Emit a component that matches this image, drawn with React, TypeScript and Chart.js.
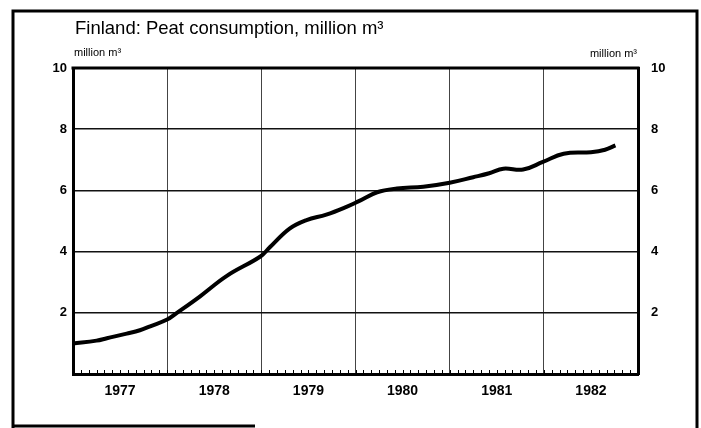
import React, { useEffect, useRef } from 'react';
import { Chart, registerables } from 'chart.js';

Chart.register(...registerables);

const TITLE = 'Finland: Peat consumption, million m³';
const UNIT = 'million m³';
const YEARS = ['1977', '1978', '1979', '1980', '1981', '1982'];
const Y_TICKS = [0, 2, 4, 6, 8, 10];

// time in decimal years, consumption in million m³
const TIME = [
  1977.0, 1977.25, 1977.36, 1977.57, 1977.71, 1977.82, 1978.0, 1978.1, 1978.35, 1978.63, 1978.99,
  1979.09, 1979.3, 1979.48, 1979.69, 1979.91, 1980.03, 1980.23, 1980.44, 1980.72,
  1981.0, 1981.25, 1981.42, 1981.57, 1981.78, 1981.99, 1982.21, 1982.5, 1982.65, 1982.76,
];
const CONSUMPTION = [
  1.0, 1.09, 1.17, 1.32, 1.43, 1.56, 1.78, 1.99, 2.54, 3.2, 3.84,
  4.14, 4.75, 5.03, 5.21, 5.47, 5.64, 5.94, 6.06, 6.12,
  6.25, 6.43, 6.56, 6.71, 6.68, 6.93, 7.2, 7.25, 7.33, 7.47,
];

const FONT = "'Liberation Sans', Arial, sans-serif";

const decorPlugin = {
  id: 'decor',
  afterDraw(chart: any) {
    const ctx = chart.ctx as CanvasRenderingContext2D;
    const a = chart.chartArea;
    const xs = chart.scales.x;
    ctx.save();
    // top border of plot
    ctx.strokeStyle = '#000';
    ctx.lineWidth = 3;
    ctx.beginPath();
    ctx.moveTo(a.left - 1.5, a.top);
    ctx.lineTo(a.right + 1.5, a.top);
    ctx.stroke();
    // monthly ticks
    ctx.lineWidth = 1;
    const start = Number(YEARS[0]);
    const months = YEARS.length * 12;
    ctx.beginPath();
    for (let m = 1; m < months; m++) {
      const px = Math.round(xs.getPixelForValue(start + m / 12)) + 0.5;
      ctx.moveTo(px, a.bottom);
      ctx.lineTo(px, a.bottom - 4);
    }
    ctx.stroke();
    // outer frame
    ctx.lineWidth = 3;
    ctx.beginPath();
    ctx.moveTo(13, 428);
    ctx.lineTo(13, 11);
    ctx.lineTo(697, 11);
    ctx.lineTo(697, 428);
    ctx.moveTo(12, 426);
    ctx.lineTo(255, 426);
    ctx.stroke();
    // texts
    ctx.fillStyle = '#000';
    ctx.textBaseline = 'alphabetic';
    ctx.font = `18.5px ${FONT}`;
    ctx.textAlign = 'left';
    ctx.fillText(TITLE, 75, 34);
    ctx.font = `11px ${FONT}`;
    ctx.fillText(UNIT, 74, 56);
    ctx.textAlign = 'right';
    ctx.fillText(UNIT, 637, 57);
    ctx.restore();
  },
};

export default function App() {
  const ref = useRef<HTMLCanvasElement>(null);
  useEffect(() => {
    document.body.style.margin = '0';
    const x0 = Number(YEARS[0]);
    const x1 = Number(YEARS[YEARS.length - 1]) + 1;
    const yMax = Y_TICKS[Y_TICKS.length - 1];
    const chart = new Chart(ref.current as HTMLCanvasElement, {
      type: 'line',
      data: {
        datasets: [
          {
            data: TIME.map((t, i) => ({ x: t, y: CONSUMPTION[i] })),
            borderColor: '#000',
            borderWidth: 4,
            pointRadius: 0,
            tension: 0.4,
            fill: false,
          },
        ],
      },
      options: {
        animation: false,
        responsive: false,
        maintainAspectRatio: false,
        layout: { padding: { top: 68, left: 0, right: 0, bottom: 0 } },
        plugins: { legend: { display: false }, tooltip: { enabled: false }, title: { display: false } },
        scales: {
          x: {
            type: 'linear',
            min: x0,
            max: x1,
            afterBuildTicks: (s: any) => {
              const t: any[] = [];
              for (let y = x0; y <= x1; y++) {
                t.push({ value: y });
                if (y < x1) t.push({ value: y + 0.5 });
              }
              s.ticks = t;
            },
            afterFit: (s: any) => {
              s.height = 54;
            },
            ticks: {
              autoSkip: false,
              maxRotation: 0,
              padding: 9,
              color: '#000',
              font: { family: FONT, size: 14, weight: 'bold' },
              callback: (v: any) => (Number.isInteger(v) ? '' : YEARS[Math.floor(v) - x0]),
            },
            grid: {
              drawTicks: false,
              color: (c: any) => (c.tick && Number.isInteger(c.tick.value) ? '#444' : 'rgba(0,0,0,0)'),
              lineWidth: 1,
            },
            border: { display: true, color: '#000', width: 3 },
          },
          y: {
            type: 'linear',
            position: 'left',
            min: 0,
            max: yMax,
            afterBuildTicks: (s: any) => {
              s.ticks = Y_TICKS.map((v) => ({ value: v }));
            },
            afterFit: (s: any) => {
              s.width = 73;
            },
            ticks: {
              padding: 6,
              color: '#000',
              font: { family: FONT, size: 13, weight: 'bold' },
              callback: (v: any) => (v === 0 ? '' : String(v)),
            },
            grid: { drawTicks: false, color: '#111', lineWidth: 1.5 },
            border: { display: true, color: '#000', width: 3 },
          },
          y2: {
            type: 'linear',
            position: 'right',
            min: 0,
            max: yMax,
            afterBuildTicks: (s: any) => {
              s.ticks = Y_TICKS.map((v) => ({ value: v }));
            },
            afterFit: (s: any) => {
              s.width = 63;
            },
            ticks: {
              padding: 13,
              color: '#000',
              font: { family: FONT, size: 13, weight: 'bold' },
              callback: (v: any) => (v === 0 ? '' : String(v)),
            },
            grid: { drawOnChartArea: false, drawTicks: false },
            border: { display: true, color: '#000', width: 3 },
          },
        },
      },
      plugins: [decorPlugin],
    });
    return () => chart.destroy();
  }, []);
  return <canvas ref={ref} width={701} height={428} style={{ display: 'block' }} />;
}
